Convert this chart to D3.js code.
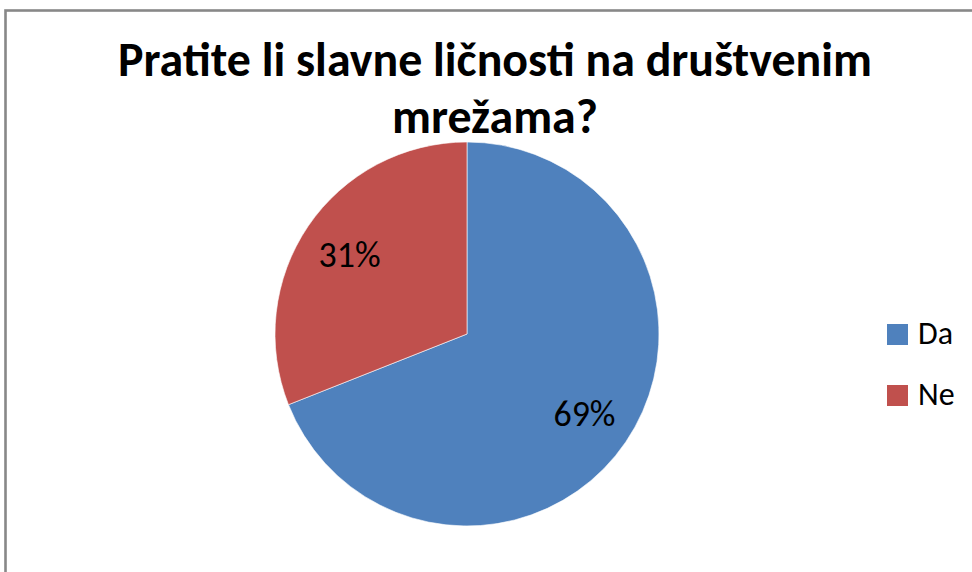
<!DOCTYPE html>
<html>
<head>
<meta charset="utf-8">
<script src="https://cdn.jsdelivr.net/npm/d3@7"></script>
<style>
  html, body { margin: 0; padding: 0; background: #fff; }
  svg { display: block; }
  text { font-family: Carlito, Calibri, Lato, "Open Sans", sans-serif; }
</style>
</head>
<body>
<script>
const categories = ["Da", "Ne"];
const values = [69, 31];
const labels = ["69%", "31%"];
const colors = ["#4F81BD", "#C0504D"];
const titleLines = ["Pratite li slavne ličnosti na društvenim", "mrežama?"];

const W = 972, H = 572;
const svg = d3.select("body").append("svg").attr("width", W).attr("height", H);

svg.append("rect")
  .attr("x", 5.5).attr("y", 10.5)
  .attr("width", 1200).attr("height", 1200)
  .attr("fill", "#fff").attr("stroke", "#888888").attr("stroke-width", 2.6);

function fit(sel, target) {
  const w = sel.node().getComputedTextLength();
  const fs = parseFloat(sel.attr("font-size"));
  sel.attr("font-size", fs * target / w);
}

// Title
const t1 = svg.append("text").attr("x", 495).attr("y", 76)
  .attr("text-anchor", "middle").attr("font-weight", "bold")
  .attr("font-size", 44).attr("fill", "#000").text(titleLines[0]);
fit(t1, 754);
const t2 = svg.append("text").attr("x", 495).attr("y", 133)
  .attr("text-anchor", "middle").attr("font-weight", "bold")
  .attr("font-size", t1.attr("font-size")).attr("fill", "#000").text(titleLines[1]);

// Pie
const cx = 467, cy = 334, R = 192;
const pie = d3.pie().sort(null).value(d => d)(values);
const arc = d3.arc().innerRadius(0).outerRadius(R);
const labelArc = d3.arc().innerRadius(142).outerRadius(142);
const g = svg.append("g").attr("transform", `translate(${cx},${cy})`);
g.selectAll("path").data(pie).join("path")
  .attr("d", arc)
  .attr("fill", (d, i) => colors[i])
  .attr("stroke", "#fff").attr("stroke-width", 0.6);

g.selectAll("text.lbl").data(pie).join("text")
  .attr("class", "lbl")
  .attr("transform", d => `translate(${labelArc.centroid(d)})`)
  .attr("text-anchor", "middle")
  .attr("dy", "0.35em")
  .attr("font-size", 33)
  .attr("fill", "#000")
  .text((d, i) => labels[i])
  .each(function() { fit(d3.select(this), 62); });

// Legend
const legend = svg.append("g");
const ly = [324, 385];
categories.forEach((c, i) => {
  legend.append("rect").attr("x", 887).attr("y", ly[i]).attr("width", 21).attr("height", 21)
    .attr("fill", colors[i]);
  const t = legend.append("text").attr("x", 918).attr("y", ly[i] + 20)
    .attr("font-size", 32).attr("fill", "#000").text(c);
});
</script>
</body>
</html>
